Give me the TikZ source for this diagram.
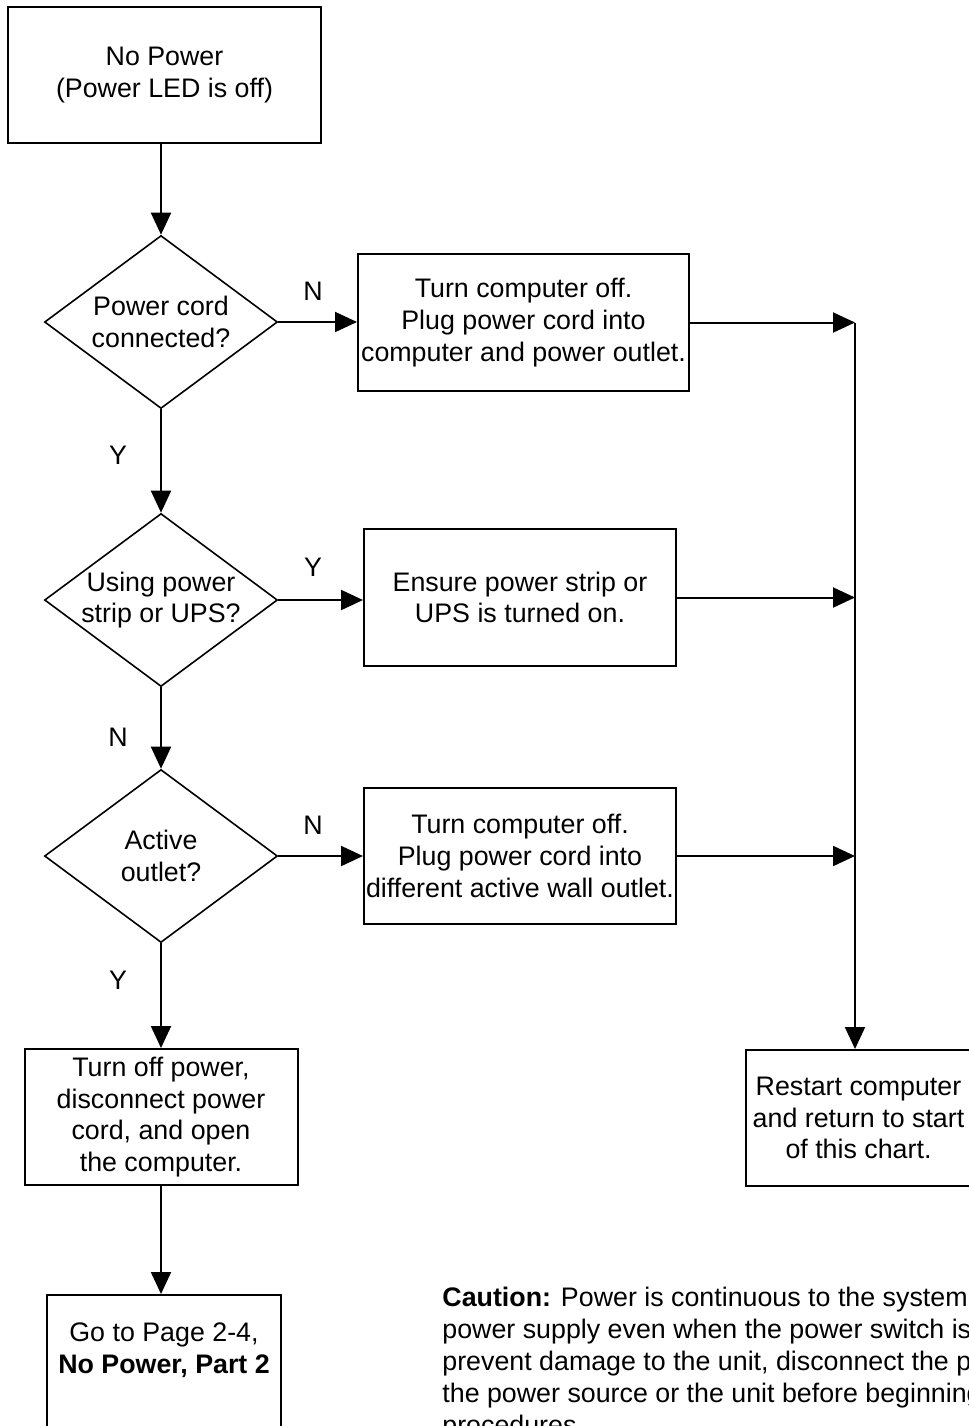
\documentclass[tikz,border=0pt]{standalone}
\usepackage{fontspec}
\setmainfont{Liberation Sans}
\usetikzlibrary{shapes.geometric,arrows.meta}
\tikzstyle{flow chart}=[
    x=0.5pt, y=-0.5pt,
    every node/.style={font={\fontsize{13.4}{15.9}\selectfont}},
    action/.style={rectangle, draw, line width=1pt, align=center, inner sep=0pt},
    decision/.style={diamond, draw, line width=0.8pt, align=center, inner sep=-6pt,
        minimum width=116.5pt, minimum height=86.5pt},
    flow/.style={line width=1pt, -{Triangle[length=11pt,width=10pt]}},
    answer/.style={inner sep=0pt},
]

\begin{document}
\begin{tikzpicture}[flow chart]
    \useasboundingbox (0,0) rectangle (969,1426);
    \clip (0,0) rectangle (969,1426);

    \node[action, minimum width=156.5pt, minimum height=68pt] (start) at (164.5,75)
        {No Power\\(Power LED is off)};
    \node[decision] (d1) at (161,322) {Power cord\\connected?};
    \node[decision] (d2) at (161,600) {Using power\\strip or UPS?};
    \node[decision] (d3) at (161,856) {Active\\outlet?};
    \node[action, minimum width=165.5pt, minimum height=68.5pt] (a1) at (523.5,322.5)
        {Turn computer off.\\Plug power cord into\\computer and power outlet.};
    \node[action, minimum width=156pt, minimum height=68.5pt] (a2) at (520,597.5)
        {Ensure power strip or\\UPS is turned on.};
    \node[action, minimum width=156pt, minimum height=68pt] (a3) at (520,856)
        {Turn computer off.\\Plug power cord into\\different active wall outlet.};
    \node[action, minimum width=136.5pt, minimum height=68pt] (off) at (161,1117)
        {Turn off power,\\disconnect power\\cord, and open\\the computer.};
    \node[action, minimum width=117pt, minimum height=74pt] (goto) at (164,1369)
        {Go to Page 2-4,\\\textbf{No Power, Part 2}\\\strut};
    \node[action, minimum width=113pt, minimum height=68pt] (restart) at (858.5,1118)
        {Restart computer\\and return to start\\of this chart.};
    \coordinate (rail) at (855,323);

    \node[answer] (n1) at (313,291) {N};
    \node[answer] (y1) at (118,455) {Y};
    \node[answer] (y2) at (313,567) {Y};
    \node[answer] (n2) at (118,737) {N};
    \node[answer] (n3) at (313,825) {N};
    \node[answer] (y3) at (118,980) {Y};

    \draw[flow] (d1.north |- start.south) -- (d1.north);
    \draw[flow] (d1) -- (d2);
    \draw[flow] (d2) -- (d3);
    \draw[flow] (d3) -- (off);
    \draw[flow] (off.south) -- (off.south |- goto.north);
    \draw[flow] (d1.east) -- (d1.east -| a1.west);
    \draw[flow] (d2.east) -- (d2.east -| a2.west);
    \draw[flow] (d3.east) -- (d3.east -| a3.west);
    \foreach \a in {a1,a2,a3}
        \draw[flow] (\a.east) -- (\a.east -| rail);
    \draw[flow] (rail) -- (rail |- restart.north);

    \node[anchor=north west, align=left, inner sep=0pt] (caution) at (442,1287)
        {\textbf{Caution:} Power is continuous to the system\\
        power supply even when the power switch is off. To\\
        prevent damage to the unit, disconnect the power cord from\\
        the power source or the unit before beginning these\\
        procedures.};
\end{tikzpicture}
\end{document}
